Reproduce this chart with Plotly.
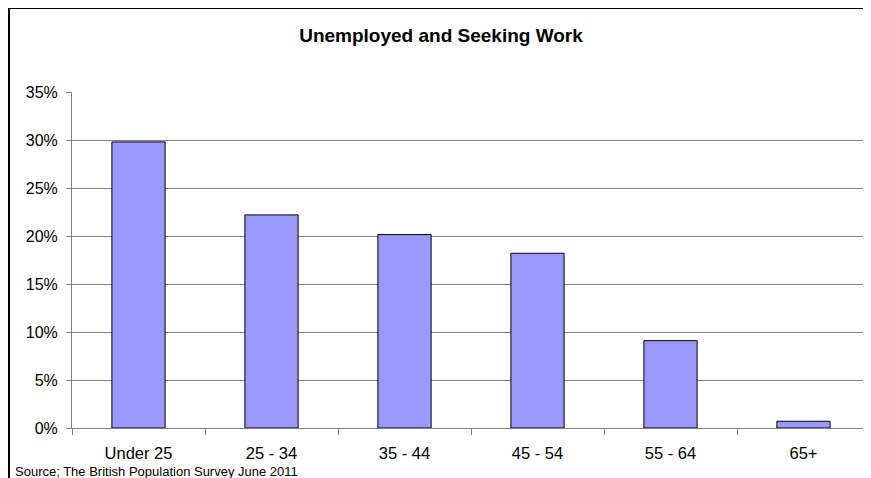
import plotly.graph_objects as go

categories = ["Under 25", "25 - 34", "35 - 44", "45 - 54", "55 - 64", "65+"]
values = [29.8, 22.2, 20.15, 18.2, 9.1, 0.7]
y_ticks = [0, 5, 10, 15, 20, 25, 30, 35]
y_tick_labels = [f"{v}%" for v in y_ticks]
title_text = "Unemployed and Seeking Work"
source_text = "Source; The British Population Survey June 2011"

# page has an 8px body margin; figure coords = page coords - 8
OFF = 8
W, H = 871 - OFF, 478 - OFF
L, R, T, B = 72 - OFF, 1, 92 - OFF, 50
pw, ph = W - L - R, H - T - B

def px_x(x):
    return (x - OFF - L) / pw

def px_y(y):
    return (H - B - (y - OFF)) / ph

fig = go.Figure()
fig.add_trace(go.Bar(
    x=categories, y=values, width=0.4,
    marker=dict(color="#9999FF", line=dict(color="#000000", width=1)),
    hoverinfo="x+y",
))

font = "Arial, Liberation Sans, sans-serif"

fig.update_layout(
    width=W, height=H,
    margin=dict(l=L, r=R, t=T, b=B, pad=0),
    paper_bgcolor="white", plot_bgcolor="white",
    showlegend=False,
    font=dict(family=font, color="#000000", size=16),
    title=dict(text="<b>" + title_text + "</b>", x=(441 - OFF) / W, xanchor="center",
               y=1 - (35 - OFF) / H, yanchor="middle",
               font=dict(family=font, size=19, color="#000000")),
    xaxis=dict(
        type="category", showgrid=False, showline=True, linecolor="#808080", linewidth=1,
        ticks="outside", ticklen=6, tickcolor="#808080", tickson="boundaries",
        tickfont=dict(size=16.5), ticklabelstandoff=10, mirror=False,
    ),
    yaxis=dict(
        range=[0, 35], tickvals=y_ticks, ticktext=y_tick_labels,
        showgrid=True, gridcolor="#808080", gridwidth=1,
        showline=True, linecolor="#808080", linewidth=1,
        ticks="outside", ticklen=5, tickcolor="#808080",
        tickfont=dict(size=16), zeroline=False, ticklabelstandoff=5,
    ),
    shapes=[
        dict(type="line", xref="paper", yref="paper", x0=1, x1=1, y0=0, y1=1,
             line=dict(color="#808080", width=1)),
        dict(type="rect", xref="paper", yref="paper",
             x0=px_x(9), x1=1.2, y0=-0.5, y1=px_y(8),
             line=dict(color="#000000", width=2), layer="below"),
    ],
    annotations=[
        dict(text=source_text, xref="paper", yref="paper",
             x=px_x(14), xanchor="left", y=px_y(471), yanchor="middle",
             showarrow=False, bgcolor="white", borderpad=0,
             font=dict(family=font, size=13, color="#000000")),
    ],
)

fig.write_html("out.html")
